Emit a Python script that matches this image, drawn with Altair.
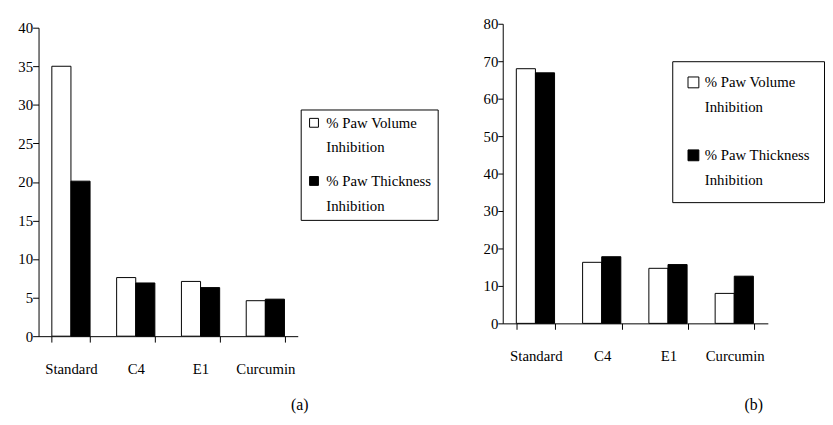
import altair as alt
import pandas as pd

categories = ["Standard", "C4", "E1", "Curcumin"]
series = ["% Paw Volume Inhibition", "% Paw Thickness Inhibition"]
vol_a = [35.0, 7.6, 7.1, 4.6]
thick_a = [20.1, 6.9, 6.3, 4.8]
vol_b = [68.0, 16.3, 14.7, 8.0]
thick_b = [66.9, 17.8, 15.7, 12.6]
ticks_a = [0, 5, 10, 15, 20, 25, 30, 35, 40]
ticks_b = [0, 10, 20, 30, 40, 50, 60, 70, 80]

FONT = "Liberation Serif"


def frame(vol, thick):
    rows = []
    for c, v, t in zip(categories, vol, thick):
        rows.append({"group": c, "series": series[0], "value": v})
        rows.append({"group": c, "series": series[1], "value": t})
    return pd.DataFrame(rows)


SPLIT = ("[slice(datum.label, 0, lastindexof(datum.label, ' ')), "
         "slice(datum.label, lastindexof(datum.label, ' ') + 1)]")


def panel(df, ticks, w, h, yrange, tick_size, legend, caption, cap_dx, cap_offset):
    return alt.Chart(
        df,
        title=alt.TitleParams(caption, orient="bottom", anchor="end", frame="group",
                              dx=cap_dx, offset=cap_offset, fontSize=16, font=FONT,
                              fontWeight="normal", color="black"),
    ).mark_bar(stroke="black", strokeWidth=1).encode(
        x=alt.X("group:N", sort=categories, title=None,
                scale=alt.Scale(paddingInner=0.41, paddingOuter=0.205),
                axis=alt.Axis(labelAngle=0, tickBand="extent", tickSize=6,
                              labelPadding=20, labelFont=FONT, labelFontSize=15)),
        xOffset=alt.XOffset("series:N", sort=series,
                            scale=alt.Scale(paddingInner=0, paddingOuter=0)),
        y=alt.Y("value:Q", title=None,
                scale=alt.Scale(domain=[ticks[0], ticks[-1]], range=yrange, nice=False),
                axis=alt.Axis(values=ticks, tickSize=tick_size, labelPadding=0,
                              labelFont=FONT, labelFontSize=15, grid=False)),
        fill=alt.Fill("series:N", sort=series,
                      scale=alt.Scale(domain=series, range=["white", "black"]),
                      legend=legend),
    ).properties(width=w, height=h)


def make_legend(lx, ly, pad, row_pad, sym, off):
    return alt.Legend(
        title=None, orient="none", legendX=lx, legendY=ly,
        strokeColor="black", fillColor="white", padding=pad, rowPadding=row_pad,
        symbolType="square", symbolSize=sym, symbolStrokeColor="black",
        symbolStrokeWidth=1, labelFont=FONT, labelFontSize=15, labelColor="black",
        labelOffset=off, labelLimit=0, labelExpr=SPLIT,
        labelBaseline="middle",
    )


chart_a = panel(frame(vol_a, thick_a), ticks_a, 263, 313, [313, 0], 6,
                make_legend(266, 83, 6, 18, 81, 5), "(a)", 11, 21)
chart_b = panel(frame(vol_b, thick_b), ticks_b, 269, 300, [300, -4], 5,
                make_legend(172, 34, 14, 33, 121, 4), "(b)", -5, 34)

chart = alt.hconcat(chart_a, chart_b, spacing=208, bounds="flush").resolve_scale(
    fill="independent", y="independent"
).resolve_legend(fill="independent").properties(
    padding={"left": 10, "top": 6, "right": 0, "bottom": 0}
).configure(
    view=alt.ViewConfig(stroke=None),
    axis=alt.AxisConfig(domainColor="black", tickColor="black", labelColor="black",
                        domainWidth=1, tickWidth=1, labelFont=FONT, labelFontSize=15),
    legend=alt.LegendConfig(labelFont=FONT, labelFontSize=15),
    style={"guide-label": {"lineHeight": 25, "font": FONT, "fontSize": 15,
                           "fill": "black"}},
)

chart.save("out.html", embed_options={"renderer": "svg", "actions": False})
